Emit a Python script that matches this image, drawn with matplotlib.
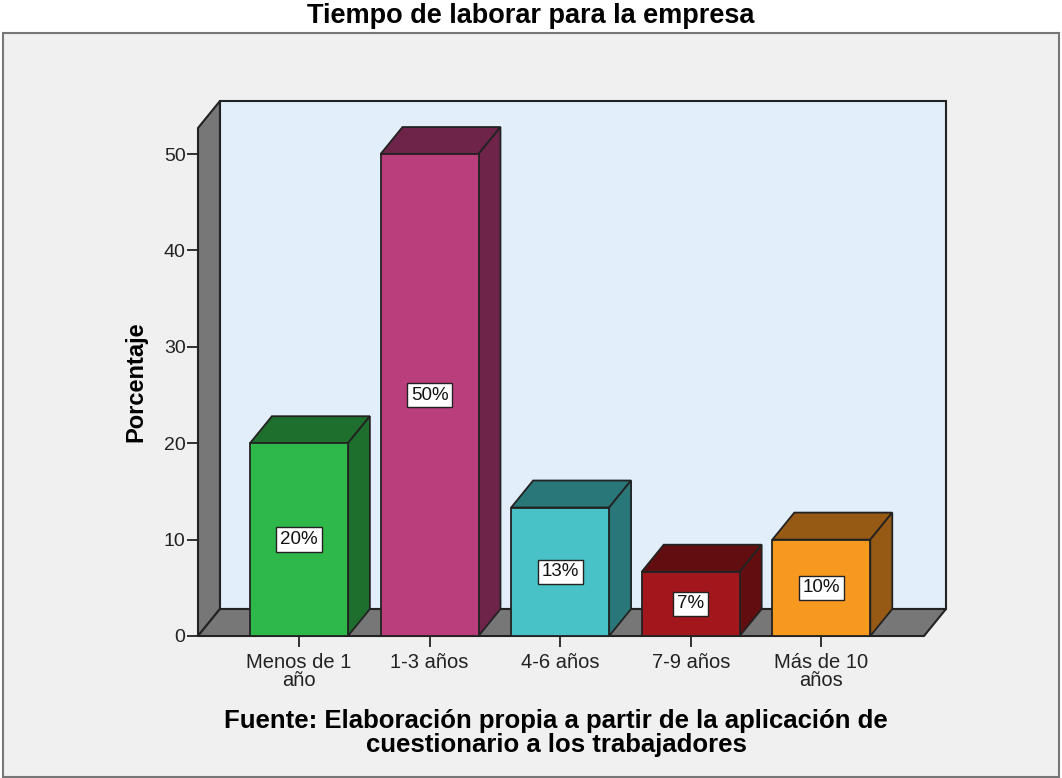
"""Tiempo de laborar para la empresa - barras 3D estilo SPSS"""
import matplotlib.pyplot as plt
from matplotlib.patches import Polygon, Rectangle

# Datos
categorias = ['Menos de 1\naño', '1-3 años', '4-6 años', '7-9 años', 'Más de 10\naños']
porcentajes = [20.0, 50.0, 13.33, 6.67, 10.0]
etiquetas = ['20%', '50%', '13%', '7%', '10%']
yticks = [0, 10, 20, 30, 40, 50]

colores = ['#2EB84A', '#BA3E7B', '#48C2C6', '#A3161B', '#F7991F']
colores_osc = ['#1E6E2E', '#6E2449', '#2A7779', '#620E10', '#975A14']

plt.rcParams['font.family'] = ['Liberation Sans', 'DejaVu Sans']

fig = plt.figure(figsize=(10.62, 7.78), dpi=100)
fig.patch.set_facecolor('white')

# marco gris del area del grafico
fig.patches.append(Rectangle((3 / 1062, 1 / 778), 1056 / 1062, 744 / 778,
                             transform=fig.transFigure, facecolor='#F0F0F0',
                             edgecolor='#777777', lw=1.5, zorder=-5))

ax = fig.add_axes([198 / 1062, 1 - 636 / 778, 726 / 1062, 508 / 778])
ax.set_zorder(1)
ax.set_xlim(-0.773, 4.786)
ax.set_ylim(0, 52.7)
ax.patch.set_visible(False)
for s in ax.spines.values():
    s.set_visible(False)

# profundidad (en unidades de datos)
dx, dy = 0.168, 2.8
x0, x1 = ax.get_xlim()
ytop = ax.get_ylim()[1]
ec = '#222222'

# pared de fondo
ax.add_patch(Polygon([(x0 + dx, dy), (x1 + dx, dy), (x1 + dx, ytop + dy), (x0 + dx, ytop + dy)],
                     closed=True, facecolor='#E2EEFA', edgecolor=ec, lw=1.5, clip_on=False, zorder=1))
# pared izquierda
ax.add_patch(Polygon([(x0, 0), (x0 + dx, dy), (x0 + dx, ytop + dy), (x0, ytop)],
                     closed=True, facecolor='#777777', edgecolor=ec, lw=1.5, clip_on=False, zorder=2))
# piso
ax.add_patch(Polygon([(x0, 0), (x1, 0), (x1 + dx, dy), (x0 + dx, dy)],
                     closed=True, facecolor='#777777', edgecolor=ec, lw=1.5, clip_on=False, zorder=2))

w = 0.75
for i, (v, c, cd, lab) in enumerate(zip(porcentajes, colores, colores_osc, etiquetas)):
    l, r = i - w / 2, i + w / 2
    ax.add_patch(Polygon([(l, v), (r, v), (r + dx, v + dy), (l + dx, v + dy)],
                         closed=True, facecolor=cd, edgecolor=ec, lw=1.3, clip_on=False, zorder=3))
    ax.add_patch(Polygon([(r, 0), (r + dx, dy), (r + dx, v + dy), (r, v)],
                         closed=True, facecolor=cd, edgecolor=ec, lw=1.3, clip_on=False, zorder=3))
    ax.bar(i, v, width=w, color=c, edgecolor=ec, lw=1.3, zorder=4)
    ax.text(i, v / 2, lab, ha='center', va='center', fontsize=13.5, color='#111111', zorder=5,
            bbox=dict(boxstyle='square,pad=0.2', facecolor='white', edgecolor='#222222', lw=1))

ax.set_yticks(yticks)
ax.set_xticks(range(len(categorias)))
ax.set_xticklabels(categorias, fontsize=14.5, color='#222222', linespacing=0.95)
ax.tick_params(axis='y', length=8, width=1.3, color='#222222', labelsize=14,
               labelcolor='#222222', pad=1)
ax.tick_params(axis='x', length=8, width=1.3, color='#222222', pad=4)
ax.set_ylabel('Porcentaje', fontsize=17, fontweight='bold', labelpad=12)

fig.text(531 / 1062, 1 - 16 / 778, 'Tiempo de laborar para la empresa', ha='center', va='center',
         fontsize=19.5, fontweight='bold')
fig.text(556 / 1062, 1 - 733 / 778,
         'Fuente: Elaboración propia a partir de la aplicación de\ncuestionario a los trabajadores',
         ha='center', va='center', fontsize=18.5, fontweight='bold', linespacing=1.0)

fig.savefig('out.png', dpi=100, facecolor=fig.get_facecolor())
